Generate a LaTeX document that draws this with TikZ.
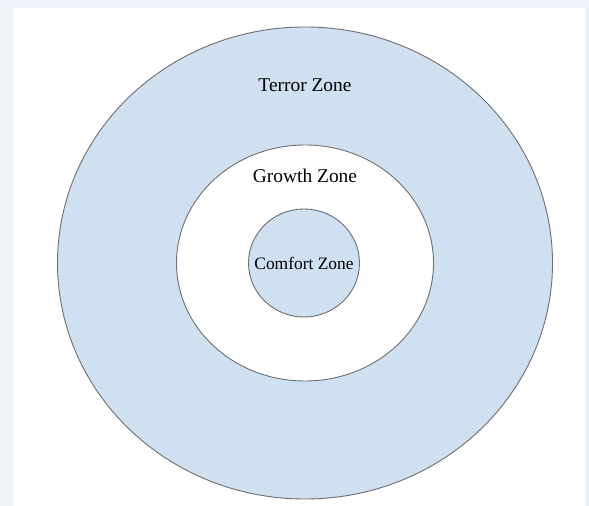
\documentclass[tikz,border=0pt]{standalone}
\usepackage{fontspec}
\setmainfont{Liberation Serif}
\usetikzlibrary{shapes.geometric}
\definecolor{pagebg}{HTML}{EEF3FA}
\definecolor{zonefill}{HTML}{CFE0F1}
\definecolor{zoneline}{HTML}{6E6E6E}
\begin{document}
\begin{tikzpicture}[x=1bp,y=1bp,
  zone/.style={ellipse, draw=zoneline, line width=0.9bp, inner sep=0pt},
  zonetext/.style={text=black, inner sep=0pt}]
  % page background and white panel
  \fill[pagebg] (0,0) rectangle (589,506);
  \fill[white] (13,0) rectangle (585,498);
  \useasboundingbox (0,0) rectangle (589,506);
  % concentric zones
  \node[zone, fill=zonefill, minimum width=495bp, minimum height=472bp] (terror) at (305,243) {};
  \node[zone, fill=white, minimum width=257bp, minimum height=236bp] (growth) at (305,243) {};
  \node[zone, fill=zonefill, minimum width=111bp, minimum height=108bp] (comfort) at (304,243) {};
  % labels
  \node[zonetext, font=\fontsize{19.5}{22}\selectfont] (terrorlbl) at (305,421) {Terror Zone};
  \node[zonetext, font=\fontsize{19.5}{22}\selectfont] (growthlbl) at (305,330) {Growth Zone};
  \node[zonetext, font=\fontsize{17.5}{20}\selectfont] (comfortlbl) at (304,243) {Comfort Zone};
\end{tikzpicture}
\end{document}
